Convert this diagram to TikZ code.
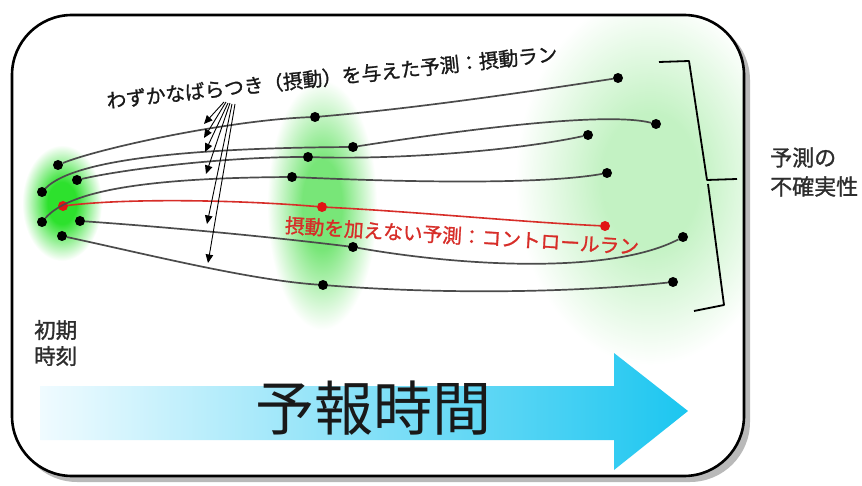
\documentclass[tikz,border=0pt]{standalone}
\usepackage{fontspec}
\newfontfamily\jp{Noto Sans CJK JP}
\newfontfamily\jpb[FakeBold=1.2]{Noto Sans CJK JP}
\usetikzlibrary{arrows.meta}
\definecolor{trajc}{RGB}{75,75,75}
\definecolor{ctrlred}{RGB}{215,45,40}
\definecolor{dotred}{RGB}{225,20,20}
\definecolor{arrowL}{RGB}{240,251,255}
\definecolor{arrowM}{RGB}{80,208,243}
\definecolor{arrowR}{RGB}{28,198,240}
\definecolor{glowL}{RGB}{45,225,45}
\definecolor{glowM}{RGB}{120,230,120}
\definecolor{glowR}{RGB}{195,242,195}
\definecolor{txtgray}{RGB}{45,45,45}
\pgfdeclareradialshading[glowc]{glow}{\pgfpointorigin}{color(0bp)=(glowc); color(9bp)=(glowc); color(25bp)=(white); color(50bp)=(white)}
\begin{document}
\begin{tikzpicture}[x=1pt,y=1pt,
  dot/.style={circle,fill=black,inner sep=0pt,minimum size=10pt},
  rdot/.style={circle,fill=dotred,inner sep=0pt,minimum size=10pt},
  traj/.style={draw=trajc,line width=1.7pt},
  ctrl/.style={draw=ctrlred,line width=1.6pt},
  ptr/.style={draw=black,line width=0.9pt,-{Triangle[length=8.5pt,width=7.5pt]}},
  lbl/.style={inner sep=0pt},
]
\useasboundingbox (0,0) rectangle (862,-486);
% frame shadow and fill
\fill[gray!55, rounded corners=60pt] (17,-20) rectangle (750,-482);
\fill[white, rounded corners=60pt] (12,-15) rectangle (744,-476);
% glows
\begin{scope}
  \clip[rounded corners=60pt] (12,-15) rectangle (744,-476);
  \colorlet{glowc}{glowR}
  \shade[shading=glow] (650,-180) ellipse (135 and 185);
  \colorlet{glowc}{glowM}
  \shade[shading=glow] (322,-205) ellipse (55 and 125);
  \colorlet{glowc}{glowL}
  \shade[shading=glow] (62,-203) ellipse (40 and 58);
\end{scope}
% time arrow
\shade[left color=arrowL, middle color=arrowM, right color=arrowR]
  (40,-386) -- (614,-386) -- (614,-353) -- (688,-411) -- (614,-470) -- (614,-440) -- (40,-440) -- cycle;
\node[lbl, font=\jp\fontsize{59}{60}\selectfont, text=black!90] (fcst) at (373,-408) {予報時間};
% dots: initial time
\node[dot] (A) at (58,-165) {};
\node[dot] (B) at (77,-180) {};
\node[dot] (C) at (42,-192) {};
\node[rdot] (R) at (63,-206) {};
\node[dot] (D) at (42,-222) {};
\node[dot] (E) at (80,-221) {};
\node[dot] (F) at (62,-236) {};
% middle
\node[dot] (M1) at (315,-117) {};
\node[dot] (M2) at (353,-147) {};
\node[dot] (M3) at (308,-157) {};
\node[dot] (M4) at (292,-177) {};
\node[rdot] (MR) at (322,-207) {};
\node[dot] (M5) at (353,-247) {};
\node[dot] (M6) at (323,-285) {};
% right
\node[dot] (R1) at (618,-78) {};
\node[dot] (R2) at (656,-124) {};
\node[dot] (R3) at (588,-135) {};
\node[dot] (R4) at (607,-173) {};
\node[rdot] (RR) at (605,-226) {};
\node[dot] (R5) at (683,-237) {};
\node[dot] (R6) at (673,-282) {};
% trajectories
\draw[traj] (A) .. controls (100,-148) and (230,-120) .. (M1) .. controls (420,-108) and (540,-90) .. (R1);
\draw[traj] (C) .. controls (75,-158) and (200,-148) .. (M2) .. controls (430,-135) and (600,-110) .. (R2);
\draw[traj] (B) .. controls (130,-168) and (230,-157) .. (M3) .. controls (400,-160) and (520,-150) .. (R3);
\draw[traj] (D) .. controls (70,-190) and (150,-178) .. (M4) .. controls (400,-182) and (540,-185) .. (R4);
\draw[ctrl] (R) .. controls (130,-198) and (240,-200) .. (MR) .. controls (420,-212) and (520,-222) .. (RR);
\draw[traj] (E) .. controls (180,-228) and (280,-238) .. (M5) .. controls (460,-266) and (610,-275) .. (R5);
\draw[traj] (F) .. controls (150,-255) and (250,-280) .. (M6) .. controls (450,-295) and (580,-292) .. (R6);
% labels
\node[lbl, rotate=6, font=\jpb\fontsize{19.7}{22}\selectfont, text=black!90] (pert) at (332,-77) {わずかなばらつき（摂動）を与えた予測：摂動ラン};
\node[lbl, rotate=-3.5, font=\jpb\fontsize{19.7}{22}\selectfont, text=ctrlred] (ctl) at (462,-236) {摂動を加えない予測：コントロールラン};
\node[lbl, align=left, anchor=west, font=\jpb\fontsize{22}{29}\selectfont, text=txtgray] (unc) at (770,-172) {予測の\\不確実性};
\node[lbl, align=left, anchor=west, font=\jpb\fontsize{21.5}{26}\selectfont, text=txtgray] (init) at (34,-343) {初期\\時刻};
% pointer arrows
\coordinate (s1) at (224,-102); \coordinate (e1) at (204,-124);
\coordinate (s2) at (226,-102); \coordinate (e2) at (204,-138);
\coordinate (s3) at (228,-103); \coordinate (e3) at (205,-152);
\coordinate (s4) at (230,-103); \coordinate (e4) at (206,-174);
\coordinate (s5) at (232,-104); \coordinate (e5) at (207,-224);
\coordinate (s6) at (235,-104); \coordinate (e6) at (208,-263);
\foreach \i in {1,...,6} \draw[ptr] (s\i) -- (e\i);
% bracket
\draw[line width=1.8pt, line join=round] (659,-62) -- (689,-61) -- (707,-180) -- (737,-179);
\draw[line width=1.8pt, line join=round] (708,-184) -- (724,-305) -- (694,-311);
% frame
\draw[line width=2.6pt, rounded corners=60pt] (12,-15) rectangle (744,-476);
\end{tikzpicture}
\end{document}
